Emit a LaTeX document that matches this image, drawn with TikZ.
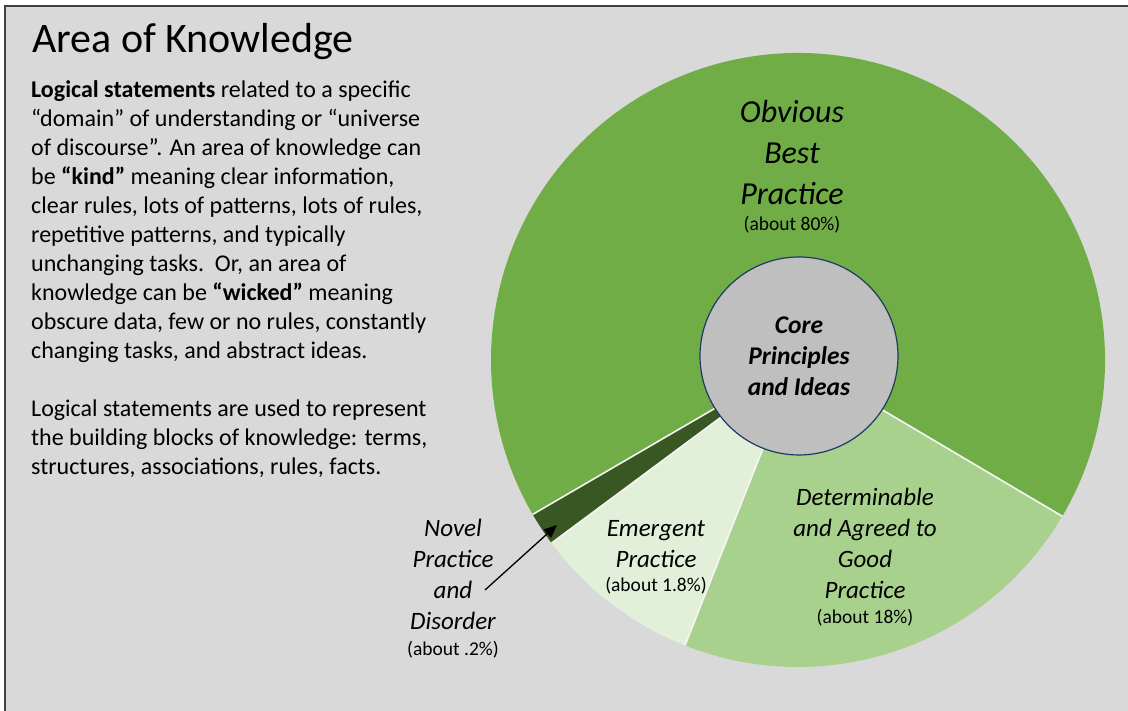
\documentclass[tikz,border=0pt]{standalone}
\usepackage{fontspec}
\setmainfont{Carlito}
\usepackage{tikz}
\usetikzlibrary{arrows.meta, positioning}
\usepackage{xcolor}

\definecolor{bggray}{HTML}{D9D9D9}
\definecolor{framegray}{HTML}{404040}
\definecolor{obviousgreen}{HTML}{70AD47}
\definecolor{goodgreen}{HTML}{A9D18E}
\definecolor{emergentgreen}{HTML}{E2F0D9}
\definecolor{novelgreen}{HTML}{385723}
\definecolor{coregray}{HTML}{BFBFBF}
\definecolor{coreedge}{HTML}{1F3864}

\begin{document}
\begin{tikzpicture}[x=1pt, y=1pt, font=\fontsize{24}{29}\selectfont,
    slicelabel/.style={align=center, anchor=base, inner sep=0pt, font=\fontsize{25}{31}\selectfont\itshape},
    sep/.style={draw=white!75!bggray, line width=1.6pt}]
    \useasboundingbox (0,0) rectangle (1128,711);
    % Background and frame
    \fill[bggray] (5,0) rectangle (1128,705);
    \draw[framegray, line width=2pt] (5,0) -- (5,705) -- (1128,705);
    % Title and the text on the left
    \node (title) [anchor=base west, inner sep=0pt, font=\fontsize{42}{50}\selectfont] at (32,658) {Area of Knowledge};
    \node (body) [anchor=north west, inner sep=0pt, align=left] at (31,631) {\textbf{Logical statements} related to a specific\\
        “domain” of understanding or “universe\\
        of discourse”. An area of knowledge can\\
        be \textbf{“kind”} meaning clear information,\\
        clear rules, lots of patterns, lots of rules,\\
        repetitive patterns, and typically\\
        unchanging tasks.\ \ Or, an area of\\
        knowledge can be \textbf{“wicked”} meaning\\
        obscure data, few or no rules, constantly\\
        changing tasks, and abstract ideas.\\[29pt]
        Logical statements are used to represent\\
        the building blocks of knowledge: terms,\\
        structures, associations, rules, facts.};
    % Slices of the pie
    \coordinate (centre) at (798,351);
    \fill[obviousgreen] (centre) -- ++(-30.6:307) arc[start angle=-30.6, end angle=210.2, radius=307] -- cycle;
    \fill[novelgreen] (centre) -- ++(210.2:307) arc[start angle=210.2, end angle=216.6, radius=307] -- cycle;
    \fill[emergentgreen] (centre) -- ++(216.6:307) arc[start angle=216.6, end angle=248.4, radius=307] -- cycle;
    \fill[goodgreen] (centre) -- ++(248.4:307) arc[start angle=248.4, end angle=329.4, radius=307] -- cycle;
    \foreach \a in {-30.6, 210.2, 216.6, 248.4}
        \draw[sep] (centre) -- ++(\a:307);
    % Core circle in the middle
    \node (core) [circle, minimum size=198pt, inner sep=0pt, fill=coregray, draw=coreedge, line width=1.2pt, align=center, font=\fontsize{25.5}{31}\selectfont\bfseries\itshape] at (799,355) {Core\\Principles\\and Ideas};
    % Labels of the slices (base is the last line)
    \node (obvious) [slicelabel, font=\fontsize{32}{41}\selectfont\itshape] at (792,480) {Obvious\\Best\\Practice\\[-15pt]{\fontsize{19.5}{20}\selectfont\upshape (about 80\%)}};
    \node (good) [slicelabel] at (865,87) {Determinable\\and Agreed to\\Good\\Practice\\[-6pt]{\fontsize{19.5}{20}\selectfont\upshape (about 18\%)}};
    \node (emergent) [slicelabel] at (656,119) {Emergent\\Practice\\[-7pt]{\fontsize{19.5}{20}\selectfont\upshape (about 1.8\%)}};
    \node (novel) [slicelabel] at (453,55) {Novel\\Practice\\and\\Disorder\\[-5pt]{\fontsize{19.5}{20}\selectfont\upshape (about .2\%)}};
    % Arrow to the thin dark slice
    \coordinate (noveltail) at (485,121);
    \coordinate (noveltip) at (557,186);
    \draw[-{Triangle[length=13pt, width=11pt]}, line width=1.3pt] (noveltail) -- (noveltip);
\end{tikzpicture}
\end{document}
